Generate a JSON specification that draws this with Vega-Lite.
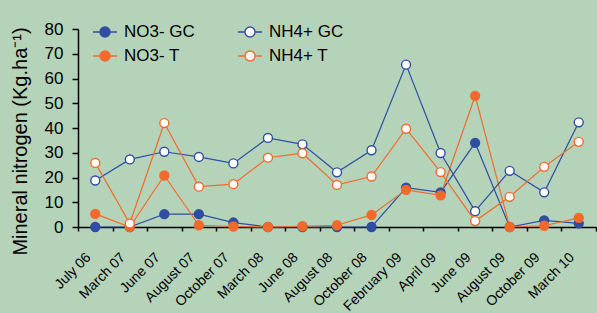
{
  "$schema": "https://vega.github.io/schema/vega-lite/v6.json",
  "width": 518,
  "height": 198,
  "autosize": {"type": "none"},
  "padding": {"left": 78, "top": 29, "right": 1, "bottom": 86},
  "background": "#b5d3b9",
  "config": {
    "font": "Liberation Sans",
    "view": {"stroke": null},
    "axis": {"domainColor": "#000000", "tickColor": "#000000", "labelColor": "#000000", "titleColor": "#000000", "grid": false, "domainWidth": 1.5, "tickWidth": 1.5, "labelFont": "Liberation Sans", "titleFont": "Liberation Sans", "titleFontWeight": "normal"},
    "legend": {"labelFont": "Liberation Sans"}
  },
  "data": {
    "values": [
      {"date": "July 06", "series": "NO3- GC", "value": 0},
      {"date": "March 07", "series": "NO3- GC", "value": 0},
      {"date": "June 07", "series": "NO3- GC", "value": 5.2},
      {"date": "August 07", "series": "NO3- GC", "value": 5.2},
      {"date": "October 07", "series": "NO3- GC", "value": 1.8},
      {"date": "March 08", "series": "NO3- GC", "value": 0},
      {"date": "June 08", "series": "NO3- GC", "value": 0},
      {"date": "August 08", "series": "NO3- GC", "value": 0},
      {"date": "October 08", "series": "NO3- GC", "value": 0},
      {"date": "February 09", "series": "NO3- GC", "value": 15.9},
      {"date": "April 09", "series": "NO3- GC", "value": 14},
      {"date": "June 09", "series": "NO3- GC", "value": 34},
      {"date": "August 09", "series": "NO3- GC", "value": 0},
      {"date": "October 09", "series": "NO3- GC", "value": 2.7},
      {"date": "March 10", "series": "NO3- GC", "value": 1.5},
      {"date": "July 06", "series": "NO3- T", "value": 5.3},
      {"date": "March 07", "series": "NO3- T", "value": 0},
      {"date": "June 07", "series": "NO3- T", "value": 20.8},
      {"date": "August 07", "series": "NO3- T", "value": 0.7},
      {"date": "October 07", "series": "NO3- T", "value": 0.2},
      {"date": "March 08", "series": "NO3- T", "value": 0},
      {"date": "June 08", "series": "NO3- T", "value": 0.3},
      {"date": "August 08", "series": "NO3- T", "value": 0.7},
      {"date": "October 08", "series": "NO3- T", "value": 4.9},
      {"date": "February 09", "series": "NO3- T", "value": 15},
      {"date": "April 09", "series": "NO3- T", "value": 12.8},
      {"date": "June 09", "series": "NO3- T", "value": 53},
      {"date": "August 09", "series": "NO3- T", "value": 0},
      {"date": "October 09", "series": "NO3- T", "value": 0.5},
      {"date": "March 10", "series": "NO3- T", "value": 3.7},
      {"date": "July 06", "series": "NH4+ GC", "value": 18.8},
      {"date": "March 07", "series": "NH4+ GC", "value": 27.3},
      {"date": "June 07", "series": "NH4+ GC", "value": 30.4},
      {"date": "August 07", "series": "NH4+ GC", "value": 28.3},
      {"date": "October 07", "series": "NH4+ GC", "value": 25.7},
      {"date": "March 08", "series": "NH4+ GC", "value": 36},
      {"date": "June 08", "series": "NH4+ GC", "value": 33.4},
      {"date": "August 08", "series": "NH4+ GC", "value": 22.1},
      {"date": "October 08", "series": "NH4+ GC", "value": 31},
      {"date": "February 09", "series": "NH4+ GC", "value": 65.6},
      {"date": "April 09", "series": "NH4+ GC", "value": 29.9},
      {"date": "June 09", "series": "NH4+ GC", "value": 6.4},
      {"date": "August 09", "series": "NH4+ GC", "value": 22.7},
      {"date": "October 09", "series": "NH4+ GC", "value": 14},
      {"date": "March 10", "series": "NH4+ GC", "value": 42.3},
      {"date": "July 06", "series": "NH4+ T", "value": 25.9},
      {"date": "March 07", "series": "NH4+ T", "value": 1.4},
      {"date": "June 07", "series": "NH4+ T", "value": 42},
      {"date": "August 07", "series": "NH4+ T", "value": 16.3},
      {"date": "October 07", "series": "NH4+ T", "value": 17.3},
      {"date": "March 08", "series": "NH4+ T", "value": 28},
      {"date": "June 08", "series": "NH4+ T", "value": 29.8},
      {"date": "August 08", "series": "NH4+ T", "value": 17},
      {"date": "October 08", "series": "NH4+ T", "value": 20.4},
      {"date": "February 09", "series": "NH4+ T", "value": 39.7},
      {"date": "April 09", "series": "NH4+ T", "value": 22.2},
      {"date": "June 09", "series": "NH4+ T", "value": 2.4},
      {"date": "August 09", "series": "NH4+ T", "value": 12.2},
      {"date": "October 09", "series": "NH4+ T", "value": 24.3},
      {"date": "March 10", "series": "NH4+ T", "value": 34.4}
    ]
  },
  "encoding": {
    "x": {
      "field": "date", "type": "nominal", "sort": null,
      "scale": {"type": "band", "paddingInner": 0, "paddingOuter": 0},
      "axis": {"title": null, "labelAngle": -45, "labelAlign": "right", "labelBaseline": "middle", "labelFontSize": 14, "tickBand": "extent", "tickSize": 4, "labelPadding": 24, "labelOffset": -7}
    },
    "y": {
      "field": "value", "type": "quantitative",
      "scale": {"domain": [0, 80], "nice": false},
      "axis": {"title": "Mineral nitrogen (Kg.ha⁻¹)", "titleFontSize": 20, "titleY": 112, "labelFontSize": 17, "values": [0,10,20,30,40,50,60,70,80], "tickSize": 6, "labelPadding": 9, "titlePadding": 14}
    },
    "stroke": {
      "field": "series", "type": "nominal",
      "scale": {"domain": ["NO3- GC", "NO3- T", "NH4+ GC", "NH4+ T"], "range": ["#2f4ea3", "#f26a2b", "#2f4ea3", "#f26a2b"]},
      "legend": {"title": null, "orient": "none", "legendX": 14, "legendY": -10, "columns": 2, "columnPadding": 40, "rowPadding": 3, "labelFontSize": 17, "labelColor": "#000000", "symbolSize": 576, "symbolStrokeWidth": 1.4, "labelOffset": 6,
        "symbolType": "M-1,0L-0.42,0M0.42,0L1,0M0.42,0A0.42,0.42,0,1,1,-0.42,0A0.42,0.42,0,1,1,0.42,0Z"}
    }
  },
  "layer": [
    {"mark": {"type": "line", "strokeWidth": 1.2}},
    {
      "mark": {"type": "point", "filled": true, "size": 80, "strokeWidth": 1.4, "opacity": 1},
      "encoding": {
        "fill": {
          "field": "series", "type": "nominal",
          "scale": {"domain": ["NO3- GC", "NO3- T", "NH4+ GC", "NH4+ T"], "range": ["#2f4ea3", "#f26a2b", "#ffffff", "#ffffff"]},
          "legend": {"title": null, "orient": "none", "legendX": 14, "legendY": -10, "columns": 2, "columnPadding": 40, "rowPadding": 3, "labelFontSize": 17, "labelColor": "#000000", "symbolSize": 576, "symbolStrokeWidth": 1.4, "labelOffset": 6,
            "symbolType": "M-1,0L-0.42,0M0.42,0L1,0M0.42,0A0.42,0.42,0,1,1,-0.42,0A0.42,0.42,0,1,1,0.42,0Z"}
        }
      }
    }
  ]
}
